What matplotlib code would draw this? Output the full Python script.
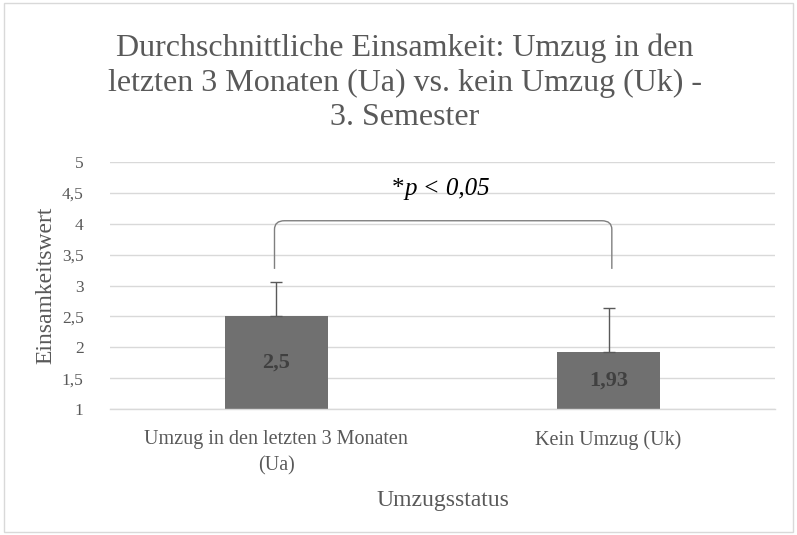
import matplotlib.pyplot as plt
from matplotlib.path import Path
from matplotlib.patches import PathPatch, Rectangle
from matplotlib.offsetbox import TextArea, HPacker, AnnotationBbox

plt.rcParams['font.family'] = ['Liberation Serif', 'DejaVu Serif']

categories = ["Umzug in den letzten 3 Monaten\n(Ua)", "Kein Umzug (Uk)"]
means = [2.5, 1.93]
errors = [0.56, 0.70]
value_labels = ["2,5", "1,93"]
y_ticks = [1, 1.5, 2, 2.5, 3, 3.5, 4, 4.5, 5]
y_tick_labels = ["1", "1,5", "2", "2,5", "3", "3,5", "4", "4,5", "5"]
bracket_top = 4.05
bracket_leg = 3.27

fig = plt.figure(figsize=(7.97, 5.35), dpi=100)
ax = fig.add_axes([0.138, 0.2355, 0.834, 0.4615])

x = [0, 1]
bar_base = 1
heights = [m - bar_base for m in means]
ax.bar(x, heights, bottom=bar_base, width=0.31, color="#707070", zorder=2)
ax.errorbar(x, means, yerr=[[0, 0], errors], fmt="none", ecolor="#595959",
            elinewidth=1.0, capsize=4, capthick=1.0, zorder=3)

for xi, m, lab in zip(x, means, value_labels):
    ax.text(xi, (bar_base + m) / 2, lab, ha="center", va="center",
            fontsize=16, fontweight="bold", color="#404040", zorder=4)

# significance bracket with rounded corners
rx, ry = 0.03, 0.14
x0, x1 = x[0] - 0.005, x[1] + 0.01
verts = [(x0, bracket_leg), (x0, bracket_top - ry), (x0, bracket_top), (x0 + rx, bracket_top),
         (x1 - rx, bracket_top), (x1, bracket_top), (x1, bracket_top - ry), (x1, bracket_leg)]
codes = [Path.MOVETO, Path.LINETO, Path.CURVE3, Path.CURVE3,
         Path.LINETO, Path.CURVE3, Path.CURVE3, Path.LINETO]
ax.add_patch(PathPatch(Path(verts, codes), fill=False, edgecolor="#7f7f7f", lw=1.0, zorder=3))

star = TextArea("*", textprops=dict(fontsize=18, color="black"))
ptxt = TextArea("p < 0,05", textprops=dict(fontsize=18, color="black", style="italic"))
pack = HPacker(children=[star, ptxt], pad=0, sep=0, align="baseline")
ax.add_artist(AnnotationBbox(pack, (0.495, 4.56), frameon=False, box_alignment=(0.5, 0.5), zorder=4))

ax.set_xlim(-0.5, 1.5)
ax.set_ylim(1, 5)
ax.set_yticks(y_ticks)
ax.set_yticklabels(y_tick_labels)
ax.set_xticks(x)
ax.set_xticklabels(categories, linespacing=1.5)
ax.tick_params(axis="both", length=0, colors="#595959")
ax.tick_params(axis="y", pad=19, labelsize=12.5)
ax.tick_params(axis="x", pad=15, labelsize=14.5)
ax.grid(axis="y", color="#d9d9d9", lw=1.0, zorder=0)
for s in ["top", "right", "left"]:
    ax.spines[s].set_visible(False)
ax.spines["bottom"].set_color("#d9d9d9")
ax.spines["bottom"].set_linewidth(1.0)

fig.text(0.058, 0.467, "Einsamkeitswert", rotation=90, ha="center", va="center",
         fontsize=17, color="#595959")
fig.text(0.556, 0.065, "Umzugsstatus", ha="center", va="center", fontsize=17, color="#595959")

fig.text(0.508, 0.845, "Durchschnittliche Einsamkeit: Umzug in den\nletzten 3 Monaten (Ua) vs. kein Umzug (Uk) -\n3. Semester",
         ha="center", va="center", fontsize=23, color="#595959", linespacing=1.25)

fig.add_artist(Rectangle((0.005, 0.005), 0.99, 0.99, transform=fig.transFigure,
                         fill=False, edgecolor="#d9d9d9", lw=1.0))

fig.savefig("out.png", dpi=100)
